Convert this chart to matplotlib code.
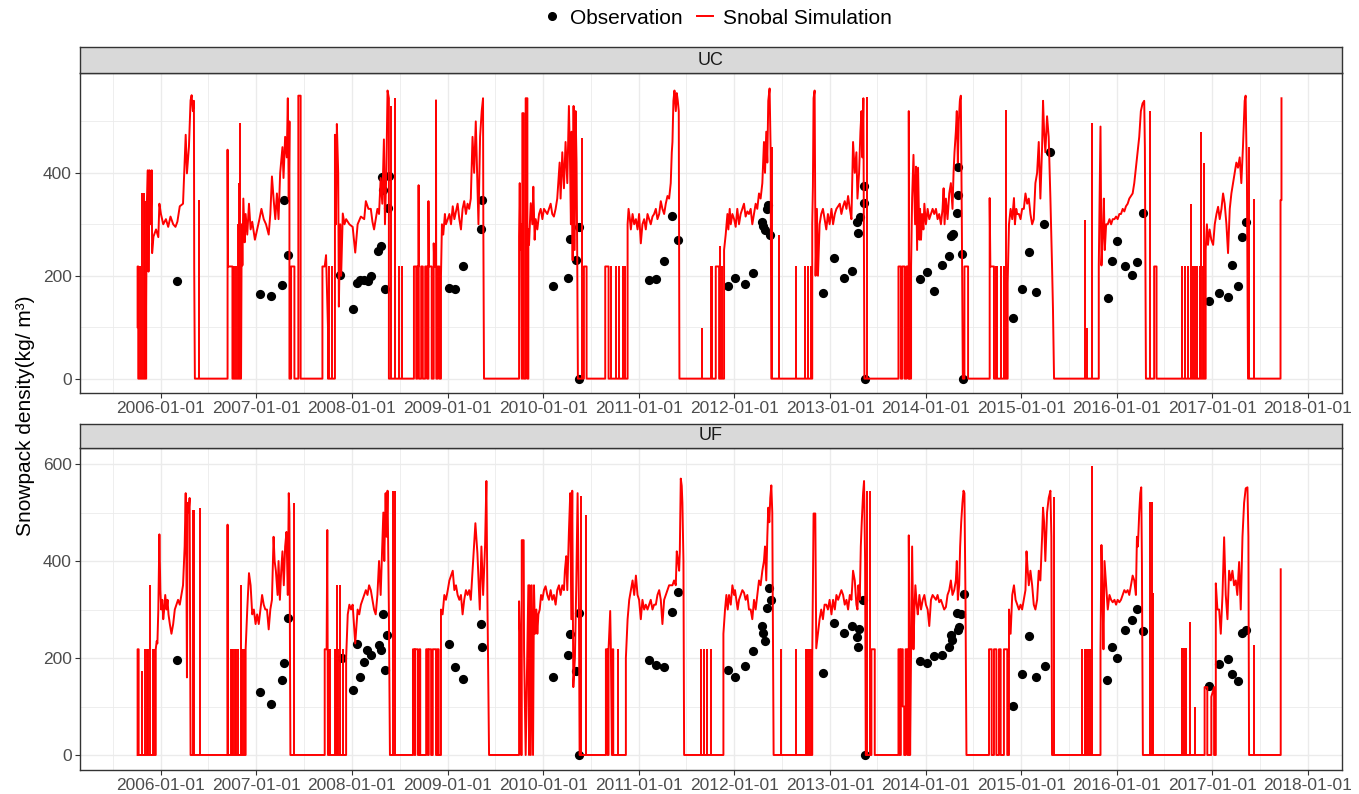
import numpy as np
import matplotlib.pyplot as plt
import matplotlib.dates as mdates
from matplotlib.lines import Line2D
from matplotlib.ticker import FixedLocator
from datetime import datetime, timedelta

plt.rcParams['font.family'] = ['Liberation Sans', 'DejaVu Sans']

# simulated density per snow season: (years from 1 Jan of season year, kg/m3)
uc_2006 = [(-0.245,100),(-0.245,218),(-0.238,218),(-0.238,0),(-0.155,0),(-0.155,140),(-0.15,330),(-0.138,405),(-0.131,208),(-0.121,405),(-0.107,300),(-0.097,405),(-0.093,244),(-0.079,276),(-0.052,290),(-0.028,275),(-0.017,340),(0.0,320),(0.024,300),(0.052,310),(0.076,295),(0.1,315),(0.128,300),(0.152,295),(0.172,305),(0.197,335),(0.231,340),(0.259,474),(0.272,399),(0.293,451),(0.31,541),(0.321,551),(0.334,520),(0.345,540),(0.348,215),(0.355,0)]
uc_2007 = [(-0.303,0),(-0.303,445),(-0.298,218),(-0.252,218),(-0.252,0),(-0.162,0),(-0.155,300),(-0.148,220),(-0.138,350),(-0.124,265),(-0.114,320),(-0.097,280),(-0.079,340),(-0.062,290),(-0.045,305),(-0.017,270),(0.007,290),(0.031,310),(0.052,330),(0.076,310),(0.1,300),(0.128,280),(0.145,320),(0.162,393),(0.179,350),(0.197,310),(0.214,360),(0.231,310),(0.248,400),(0.272,450),(0.283,390),(0.3,470),(0.317,430),(0.328,545),(0.338,350),(0.345,500),(0.345,0),(0.362,0),(0.362,218),(0.397,218),(0.397,0),(0.438,0),(0.438,550),(0.462,550),(0.462,0)]
uc_2008 = [(-0.31,0),(-0.31,218),(-0.286,218),(-0.272,240),(-0.252,100),(-0.252,0),(-0.179,0),(-0.179,474),(-0.169,300),(-0.159,495),(-0.145,400),(-0.138,140),(-0.124,300),(-0.114,200),(-0.097,321),(-0.079,300),(-0.062,310),(-0.028,300),(0.007,295),(0.034,245),(0.059,300),(0.093,315),(0.128,310),(0.145,345),(0.172,330),(0.197,330),(0.214,305),(0.231,290),(0.248,310),(0.266,330),(0.283,320),(0.3,390),(0.317,340),(0.334,465),(0.345,300),(0.359,400),(0.372,560),(0.386,545),(0.386,0)]
uc_2009 = [(-0.362,0),(-0.352,0),(-0.352,218),(-0.328,218),(-0.328,0),(-0.317,0),(-0.317,218),(-0.303,218),(-0.303,376),(-0.3,0),(-0.276,0),(-0.276,218),(-0.259,218),(-0.259,0),(-0.234,0),(-0.234,218),(-0.214,218),(-0.214,0),(-0.2,0),(-0.2,345),(-0.197,218),(-0.166,218),(-0.166,0),(-0.145,0),(-0.145,263),(-0.138,218),(-0.121,218),(-0.121,541),(-0.118,0),(-0.103,0),(-0.103,218),(-0.086,218),(-0.086,0),(-0.069,0),(-0.069,200),(-0.059,300),(-0.045,280),(-0.028,320),(-0.017,300),(0.0,310),(0.017,320),(0.034,300),(0.052,335),(0.069,310),(0.086,325),(0.103,340),(0.121,310),(0.138,290),(0.155,330),(0.172,345),(0.19,320),(0.207,340),(0.224,330),(0.241,350),(0.259,470),(0.276,400),(0.293,500),(0.303,430),(0.321,300),(0.338,470),(0.355,520),(0.369,545),(0.372,300),(0.379,0)]
uc_2010 = [(-0.254,0),(-0.254,276),(-0.247,380),(-0.24,250),(-0.233,300),(-0.226,0),(-0.22,0),(-0.22,516),(-0.206,516),(-0.206,0),(-0.185,0),(-0.185,545),(-0.167,545),(-0.167,0),(-0.157,0),(-0.157,290),(-0.15,260),(-0.132,341),(-0.115,300),(-0.105,373),(-0.091,270),(-0.08,310),(-0.063,290),(-0.045,320),(-0.028,330),(-0.01,310),(0.007,330),(0.024,325),(0.042,320),(0.059,330),(0.077,340),(0.094,320),(0.111,315),(0.129,330),(0.146,350),(0.157,380),(0.171,420),(0.181,350),(0.199,440),(0.216,370),(0.233,460),(0.251,380),(0.268,530),(0.279,430),(0.289,300),(0.296,480),(0.307,230),(0.317,530),(0.328,250),(0.338,520),(0.348,420),(0.355,240),(0.362,0),(0.425,0),(0.425,218),(0.453,218),(0.453,0)]
uc_2011 = [(-0.352,0),(-0.352,218),(-0.317,218),(-0.317,0),(-0.118,0),(-0.118,300),(-0.108,330),(-0.094,310),(-0.084,290),(-0.066,320),(-0.049,300),(-0.031,310),(-0.014,290),(0.003,320),(0.021,263),(0.038,300),(0.056,310),(0.073,290),(0.091,320),(0.108,310),(0.125,300),(0.143,315),(0.16,320),(0.178,330),(0.195,310),(0.213,320),(0.23,345),(0.247,330),(0.265,320),(0.282,340),(0.3,355),(0.317,350),(0.334,380),(0.345,440),(0.352,460),(0.362,540),(0.373,560),(0.387,520),(0.397,555),(0.408,540),(0.418,520),(0.425,0)]
uc_2012 = [(-0.195,0),(-0.195,218),(-0.16,218),(-0.16,0),(-0.108,0),(-0.108,250),(-0.091,280),(-0.073,320),(-0.063,290),(-0.049,330),(-0.038,300),(-0.021,320),(-0.003,310),(0.014,295),(0.031,330),(0.049,300),(0.066,320),(0.084,330),(0.101,340),(0.118,315),(0.136,325),(0.153,320),(0.171,330),(0.188,300),(0.206,320),(0.223,340),(0.24,330),(0.258,360),(0.275,350),(0.293,380),(0.31,460),(0.321,400),(0.334,480),(0.345,420),(0.355,540),(0.369,564),(0.38,440),(0.387,0)]
uc_2013 = [(-0.185,0),(-0.185,300),(-0.178,373),(-0.171,545),(-0.16,560),(-0.15,200),(-0.136,330),(-0.125,200),(-0.108,300),(-0.091,320),(-0.073,330),(-0.056,310),(-0.038,290),(-0.021,320),(-0.003,300),(0.014,330),(0.031,300),(0.049,320),(0.066,330),(0.084,335),(0.101,340),(0.118,320),(0.136,335),(0.153,345),(0.171,330),(0.188,355),(0.206,330),(0.223,310),(0.24,460),(0.258,400),(0.275,440),(0.286,350),(0.303,400),(0.317,480),(0.328,520),(0.338,430),(0.348,545),(0.359,0)]
uc_2014 = [(-0.285,0),(-0.285,218),(-0.26,218),(-0.26,0),(-0.245,0),(-0.245,218),(-0.22,218),(-0.22,0),(-0.2,0),(-0.2,218),(-0.18,218),(-0.18,0),(-0.177,0),(-0.177,520),(-0.17,0),(-0.153,0),(-0.153,218),(-0.142,351),(-0.128,435),(-0.111,300),(-0.101,412),(-0.09,250),(-0.08,410),(-0.066,270),(-0.059,330),(-0.049,270),(-0.038,320),(-0.024,290),(-0.014,340),(0.003,300),(0.021,330),(0.038,310),(0.056,320),(0.073,330),(0.09,320),(0.108,330),(0.125,310),(0.142,320),(0.16,300),(0.177,330),(0.188,370),(0.198,300),(0.212,350),(0.229,310),(0.247,360),(0.264,380),(0.281,330),(0.292,400),(0.302,440),(0.316,480),(0.326,520),(0.337,420),(0.347,500),(0.358,540),(0.368,550),(0.378,320),(0.389,0),(0.406,0),(0.406,218),(0.444,218),(0.444,0)]
uc_2015 = [(-0.33,0),(-0.33,351),(-0.323,218),(-0.285,218),(-0.285,0),(-0.142,0),(-0.142,186),(-0.128,300),(-0.111,330),(-0.094,310),(-0.076,351),(-0.066,300),(-0.052,330),(-0.042,320),(-0.024,320),(-0.007,310),(0.01,330),(0.028,330),(0.045,360),(0.063,340),(0.08,350),(0.097,320),(0.115,300),(0.132,310),(0.149,380),(0.167,400),(0.184,460),(0.201,350),(0.219,450),(0.229,540),(0.24,480),(0.253,440),(0.271,510),(0.288,470),(0.306,350),(0.323,220),(0.333,134),(0.344,0)]
uc_2016 = [(-0.188,0),(-0.188,218),(-0.17,490),(-0.16,220),(-0.146,280),(-0.135,350),(-0.125,250),(-0.111,300),(-0.094,300),(-0.076,310),(-0.059,300),(-0.042,310),(-0.024,310),(-0.007,315),(0.01,310),(0.028,320),(0.045,320),(0.063,330),(0.08,325),(0.097,335),(0.115,340),(0.132,350),(0.149,355),(0.167,360),(0.184,380),(0.201,410),(0.219,440),(0.236,470),(0.253,520),(0.271,535),(0.288,540),(0.295,450),(0.306,0),(0.392,0),(0.392,218),(0.417,218),(0.417,0)]
uc_2017 = [(-0.069,0),(-0.069,250),(-0.056,300),(-0.045,260),(-0.028,290),(-0.01,270),(0.007,260),(0.024,300),(0.042,320),(0.059,334),(0.076,310),(0.094,330),(0.111,360),(0.128,340),(0.146,300),(0.163,244),(0.181,330),(0.198,360),(0.215,380),(0.233,400),(0.25,420),(0.267,410),(0.285,430),(0.302,380),(0.319,450),(0.337,540),(0.347,550),(0.361,380),(0.372,0),(0.712,0),(0.712,347),(0.722,347),(0.722,545)]

# one-day spikes up from zero: (season, years from 1 Jan, kg/m3)
uc_spikes = [(2006,-0.217,218),(2006,-0.2,360),(2006,-0.183,360),(2006,-0.166,345),(2006,0.397,348),
             (2007,-0.245,218),(2007,-0.231,218),(2007,-0.217,218),(2007,-0.197,300),(2007,-0.183,380),(2007,-0.169,497),
             (2008,-0.241,218),(2008,-0.21,218),(2008,0.41,530),(2008,0.448,545),(2008,0.497,218),(2008,0.524,218),
             (2010,0.408,467),
             (2011,-0.293,218),(2011,-0.24,218),(2011,-0.206,218),(2011,-0.171,218),(2011,-0.143,218),
             (2012,-0.341,98),(2012,-0.247,218),(2012,-0.23,218),(2012,-0.15,257),(2012,-0.125,218),(2012,0.397,450),(2012,0.467,280),
             (2013,-0.352,218),(2013,-0.265,218),(2013,-0.23,218),(2013,-0.195,218),(2013,0.39,548),
             (2015,-0.267,218),(2015,-0.25,218),(2015,-0.215,218),(2015,-0.181,218),(2015,-0.163,522),
             (2016,-0.33,309),(2016,-0.309,98),(2016,-0.257,496),(2016,0.347,520),
             (2017,-0.313,218),(2017,-0.288,218),(2017,-0.253,218),(2017,-0.226,340),(2017,-0.201,218),(2017,-0.184,218),
             (2017,-0.156,218),(2017,-0.132,218),(2017,-0.115,480),(2017,-0.097,218),(2017,-0.09,420),(2017,0.382,450),(2017,0.431,350)]

uf_2006 = [(-0.245,0),(-0.245,218),(-0.234,218),(-0.234,0),(-0.055,0),(-0.055,218),(-0.045,235),(-0.038,230),(-0.028,300),(-0.017,455),(-0.007,340),(0.003,300),(0.014,320),(0.024,280),(0.034,300),(0.045,330),(0.059,300),(0.069,320),(0.079,290),(0.093,270),(0.11,250),(0.128,270),(0.145,300),(0.162,310),(0.179,320),(0.197,310),(0.214,330),(0.231,350),(0.248,430),(0.259,540),(0.266,400),(0.272,160),(0.279,520),(0.29,500),(0.3,530),(0.31,0)]
uf_2007 = [(-0.303,0),(-0.303,475),(-0.3,0),(-0.114,0),(-0.114,218),(-0.097,300),(-0.079,375),(-0.062,350),(-0.045,290),(-0.028,300),(-0.01,270),(0.007,290),(0.024,270),(0.041,300),(0.059,330),(0.076,310),(0.093,300),(0.11,300),(0.128,259),(0.145,300),(0.162,320),(0.179,450),(0.19,400),(0.203,380),(0.221,330),(0.231,400),(0.245,320),(0.259,380),(0.272,420),(0.286,350),(0.3,430),(0.314,460),(0.328,330),(0.338,540),(0.345,500),(0.355,0)]
uf_2008 = [(-0.286,0),(-0.286,218),(-0.266,218),(-0.259,464),(-0.252,0),(-0.062,0),(-0.062,200),(-0.045,290),(-0.028,310),(-0.01,300),(0.007,310),(0.024,260),(0.034,230),(0.048,270),(0.059,300),(0.076,290),(0.093,310),(0.11,320),(0.128,330),(0.145,340),(0.162,330),(0.179,350),(0.197,340),(0.214,320),(0.231,300),(0.248,290),(0.266,330),(0.283,400),(0.3,330),(0.317,430),(0.328,500),(0.338,400),(0.352,540),(0.362,450),(0.372,545),(0.386,300),(0.397,0)]
uf_2009 = [(-0.362,0),(-0.362,218),(-0.345,218),(-0.345,0),(-0.338,0),(-0.338,218),(-0.31,218),(-0.31,0),(-0.293,0),(-0.293,218),(-0.286,218),(-0.286,0),(-0.224,0),(-0.224,218),(-0.207,218),(-0.207,0),(-0.197,0),(-0.197,218),(-0.172,218),(-0.172,0),(-0.155,0),(-0.155,218),(-0.121,218),(-0.121,0),(-0.107,0),(-0.107,218),(-0.093,218),(-0.093,0),(-0.069,0),(-0.069,300),(-0.052,290),(-0.034,330),(-0.017,320),(0.0,340),(0.017,360),(0.034,370),(0.052,380),(0.069,340),(0.086,350),(0.103,330),(0.121,320),(0.138,330),(0.155,290),(0.172,320),(0.19,340),(0.207,330),(0.224,340),(0.241,320),(0.265,398),(0.289,478),(0.31,416),(0.335,300),(0.352,430),(0.37,330),(0.39,430),(0.404,565),(0.415,316),(0.432,0)]
uf_2010 = [(-0.254,0),(-0.254,317),(-0.244,250),(-0.233,0),(-0.226,0),(-0.226,443),(-0.206,443),(-0.202,218),(-0.185,0),(-0.167,218),(-0.157,350),(-0.15,0),(-0.143,350),(-0.132,0),(-0.122,350),(-0.108,0),(-0.098,350),(-0.087,250),(-0.073,300),(-0.063,250),(-0.052,290),(-0.038,300),(-0.024,330),(-0.01,320),(0.007,340),(0.024,348),(0.042,330),(0.059,320),(0.077,340),(0.094,320),(0.111,330),(0.129,310),(0.146,340),(0.164,350),(0.181,330),(0.199,350),(0.216,340),(0.226,380),(0.24,410),(0.251,340),(0.268,460),(0.282,540),(0.293,280),(0.303,545),(0.314,140),(0.331,200),(0.345,350),(0.359,540),(0.373,300),(0.38,0)]
uf_2011 = [(-0.345,0),(-0.345,218),(-0.328,218),(-0.328,0),(-0.317,0),(-0.317,218),(-0.3,297),(-0.293,218),(-0.282,0),(-0.275,218),(-0.268,218),(-0.268,0),(-0.136,0),(-0.136,200),(-0.118,280),(-0.101,320),(-0.084,340),(-0.066,360),(-0.049,330),(-0.031,370),(-0.014,330),(0.003,320),(0.021,280),(0.038,320),(0.056,300),(0.073,310),(0.091,300),(0.108,310),(0.125,320),(0.143,300),(0.16,310),(0.178,310),(0.195,330),(0.213,340),(0.23,320),(0.247,270),(0.265,320),(0.282,330),(0.3,340),(0.317,350),(0.334,350),(0.352,350),(0.369,360),(0.387,350),(0.397,420),(0.411,400),(0.422,380),(0.429,420),(0.439,570),(0.449,555),(0.456,520),(0.467,400),(0.474,0)]
uf_2012 = [(-0.115,0),(-0.115,250),(-0.098,300),(-0.084,330),(-0.07,300),(-0.056,330),(-0.038,310),(-0.021,350),(-0.003,330),(0.007,340),(0.021,320),(0.035,300),(0.049,320),(0.066,330),(0.084,340),(0.101,335),(0.118,320),(0.136,330),(0.153,300),(0.171,300),(0.188,280),(0.206,320),(0.223,300),(0.24,330),(0.258,360),(0.275,350),(0.293,380),(0.31,400),(0.321,430),(0.334,360),(0.345,450),(0.355,510),(0.366,480),(0.376,530),(0.387,556),(0.397,500),(0.411,0)]
uf_2013 = [(-0.185,0),(-0.185,200),(-0.171,498),(-0.153,498),(-0.143,220),(-0.125,250),(-0.108,280),(-0.091,300),(-0.073,280),(-0.056,310),(-0.038,310),(-0.021,300),(-0.003,320),(0.014,290),(0.031,320),(0.049,300),(0.066,330),(0.084,320),(0.101,330),(0.118,340),(0.136,330),(0.153,310),(0.171,320),(0.188,300),(0.206,330),(0.223,320),(0.24,380),(0.258,360),(0.275,310),(0.286,300),(0.296,350),(0.31,320),(0.321,430),(0.331,480),(0.345,540),(0.355,565),(0.366,400),(0.373,0),(0.432,0),(0.432,218),(0.467,218),(0.467,0)]
uf_2014 = [(-0.285,0),(-0.285,218),(-0.27,218),(-0.27,0),(-0.26,0),(-0.26,218),(-0.24,218),(-0.24,100),(-0.225,100),(-0.225,0),(-0.21,0),(-0.21,218),(-0.19,218),(-0.19,0),(-0.177,0),(-0.177,453),(-0.163,0),(-0.153,218),(-0.142,430),(-0.128,218),(-0.118,300),(-0.108,350),(-0.094,310),(-0.083,290),(-0.066,330),(-0.049,300),(-0.031,320),(-0.014,330),(0.003,310),(0.021,300),(0.038,266),(0.056,320),(0.073,330),(0.09,325),(0.108,320),(0.125,330),(0.142,315),(0.16,320),(0.177,310),(0.194,300),(0.212,305),(0.229,330),(0.247,340),(0.264,360),(0.281,330),(0.299,340),(0.316,360),(0.326,400),(0.337,320),(0.351,350),(0.361,430),(0.372,480),(0.385,520),(0.396,545),(0.406,540),(0.417,320),(0.427,0)]
uf_2015 = [(-0.337,0),(-0.337,218),(-0.309,218),(-0.309,0),(-0.285,0),(-0.285,218),(-0.26,218),(-0.26,0),(-0.233,0),(-0.233,218),(-0.215,218),(-0.215,0),(-0.181,0),(-0.181,218),(-0.146,218),(-0.146,0),(-0.128,0),(-0.128,300),(-0.111,250),(-0.094,330),(-0.076,350),(-0.059,320),(-0.042,310),(-0.024,300),(-0.007,310),(0.01,300),(0.028,320),(0.045,340),(0.056,420),(0.069,380),(0.08,350),(0.097,380),(0.115,350),(0.132,310),(0.149,300),(0.167,320),(0.184,380),(0.201,360),(0.219,450),(0.229,510),(0.24,480),(0.253,400),(0.271,500),(0.288,530),(0.306,545),(0.316,450),(0.323,0)]
uf_2016 = [(-0.17,0),(-0.17,218),(-0.16,433),(-0.146,300),(-0.139,218),(-0.128,400),(-0.111,350),(-0.094,300),(-0.076,330),(-0.059,320),(-0.042,315),(-0.024,320),(-0.007,310),(0.01,320),(0.028,315),(0.045,320),(0.063,330),(0.08,340),(0.097,335),(0.115,340),(0.132,330),(0.149,350),(0.167,370),(0.184,360),(0.201,330),(0.212,450),(0.222,430),(0.236,500),(0.247,540),(0.257,552),(0.264,400),(0.274,0)]
uf_2017 = [(-0.08,0),(-0.08,140),(-0.052,140),(-0.052,0),(-0.01,0),(-0.01,120),(0.017,140),(0.017,0),(0.035,0),(0.035,354),(0.052,300),(0.07,300),(0.087,250),(0.105,330),(0.122,449),(0.139,330),(0.157,280),(0.174,380),(0.192,360),(0.209,380),(0.226,350),(0.244,360),(0.26,330),(0.279,398),(0.296,300),(0.314,450),(0.331,520),(0.348,550),(0.366,552),(0.376,450),(0.383,0),(0.714,0),(0.714,383)]

uf_spikes = [(2006,-0.197,174),(2006,-0.166,218),(2006,-0.148,218),(2006,-0.131,218),(2006,-0.114,350),(2006,-0.086,218),(2006,-0.069,218),(2006,0.334,505),(2006,0.348,505),(2006,0.41,510),
             (2007,-0.269,218),(2007,-0.252,218),(2007,-0.241,218),(2007,-0.224,218),(2007,-0.21,218),(2007,-0.19,218),(2007,-0.166,350),(2007,-0.148,218),(2007,-0.131,218),(2007,0.397,520),
             (2008,-0.241,218),(2008,-0.228,218),(2008,-0.183,218),(2008,-0.166,218),(2008,-0.159,350),(2008,-0.148,218),(2008,-0.131,350),(2008,-0.097,218),(2008,0.431,545),(2008,0.448,545),
             (2010,0.394,535),(2010,0.443,494),(2011,-0.223,218),
             (2012,-0.348,218),(2012,-0.317,218),(2012,-0.282,218),(2012,-0.247,218),(2012,0.484,218),
             (2013,-0.352,218),(2013,-0.254,218),(2013,-0.237,218),(2013,-0.22,218),(2013,-0.195,218),(2013,0.39,545),(2013,0.415,545),
             (2015,0.34,532),
             (2016,-0.361,218),(2016,-0.337,218),(2016,-0.319,218),(2016,-0.302,218),(2016,-0.285,218),(2016,-0.257,597),(2016,0.347,522),(2016,0.365,522),(2016,0.375,334),
             (2017,-0.32,220),(2017,-0.3,220),(2017,-0.279,220),(2017,-0.233,274),(2017,-0.185,99),(2017,0.436,227)]

# observations (decimal year, kg/m3)
uc_obs_year = [2006.169, 2007.041, 2007.152, 2007.262, 2007.328, 2007.29,
               2007.879, 2008.014, 2008.048, 2008.086, 2008.128, 2008.166, 2008.203, 2008.276, 2008.3, 2008.345, 2008.31, 2008.386, 2008.328, 2008.376,
               2009.01, 2009.076, 2009.155, 2009.345, 2009.362,
               2010.098, 2010.258, 2010.279, 2010.341, 2010.369, 2010.376,
               2011.105, 2011.185, 2011.261, 2011.348, 2011.408,
               2011.93, 2012.007, 2012.115, 2012.192, 2012.286, 2012.3, 2012.317, 2012.338, 2012.348, 2012.373,
               2012.927, 2013.045, 2013.146, 2013.23, 2013.293, 2013.286, 2013.314, 2013.359, 2013.355, 2013.362,
               2013.941, 2014.017, 2014.09, 2014.17, 2014.247, 2014.264, 2014.288, 2014.323, 2014.34, 2014.337, 2014.378, 2014.396,
               2014.91, 2015.007, 2015.083, 2015.153, 2015.243, 2015.306,
               2015.906, 2015.948, 2016.007, 2016.083, 2016.156, 2016.212, 2016.274,
               2016.969, 2017.066, 2017.163, 2017.205, 2017.264, 2017.309, 2017.354]
uc_obs_val = [190, 164, 160, 182, 241, 347,
              202, 136, 186, 192, 192, 189, 199, 249, 257, 174, 391, 393, 367, 331,
              176, 174, 219, 290, 347,
              181, 195, 272, 230, 295, 0,
              192, 193, 228, 317, 270,
              181, 195, 184, 205, 305, 296, 289, 329, 338, 280,
              166, 235, 195, 209, 283, 304, 315, 341, 375, 0,
              193, 207, 171, 221, 238, 278, 281, 322, 356, 411, 242, 0,
              118, 174, 247, 169, 300, 440,
              157, 228, 268, 219, 202, 226, 322,
              150, 166, 158, 221, 181, 276, 304]
uf_obs_year = [2006.169, 2007.041, 2007.152, 2007.262, 2007.283, 2007.328,
               2007.89, 2008.014, 2008.048, 2008.086, 2008.124, 2008.162, 2008.2, 2008.279, 2008.3, 2008.324, 2008.345, 2008.362,
               2009.014, 2009.076, 2009.155, 2009.352, 2009.362,
               2010.101, 2010.258, 2010.279, 2010.341, 2010.369, 2010.376,
               2011.108, 2011.185, 2011.265, 2011.348, 2011.408,
               2011.93, 2012.007, 2012.115, 2012.192, 2012.286, 2012.3, 2012.324, 2012.341, 2012.362, 2012.383,
               2012.93, 2013.045, 2013.146, 2013.23, 2013.286, 2013.293, 2013.303, 2013.348, 2013.362,
               2013.941, 2014.017, 2014.09, 2014.17, 2014.247, 2014.264, 2014.281, 2014.337, 2014.351, 2014.323, 2014.372, 2014.403,
               2014.913, 2015.007, 2015.083, 2015.153, 2015.247,
               2015.903, 2015.948, 2016.007, 2016.083, 2016.156, 2016.212, 2016.278,
               2016.969, 2017.066, 2017.163, 2017.208, 2017.267, 2017.309, 2017.351]
uf_obs_val = [196, 130, 106, 155, 189, 283,
              201, 134, 228, 160, 191, 217, 207, 227, 217, 290, 176, 248,
              229, 181, 157, 271, 222,
              161, 207, 250, 174, 293, 0,
              196, 185, 181, 295, 337,
              175, 160, 183, 214, 266, 252, 236, 303, 344, 320,
              170, 273, 251, 266, 243, 223, 259, 320, 0,
              194, 190, 205, 207, 223, 247, 237, 257, 263, 293, 291, 333,
              102, 168, 246, 160, 184,
              155, 223, 201, 258, 278, 302, 256,
              143, 188, 197, 166, 153, 252, 258]

uc_seasons = [(2006, uc_2006), (2007, uc_2007), (2008, uc_2008), (2009, uc_2009), (2010, uc_2010), (2011, uc_2011),
              (2012, uc_2012), (2013, uc_2013), (2014, uc_2014), (2015, uc_2015), (2016, uc_2016), (2017, uc_2017)]
uf_seasons = [(2006, uf_2006), (2007, uf_2007), (2008, uf_2008), (2009, uf_2009), (2010, uf_2010), (2011, uf_2011),
              (2012, uf_2012), (2013, uf_2013), (2014, uf_2014), (2015, uf_2015), (2016, uf_2016), (2017, uf_2017)]


def to_date(y):
    yr = int(np.floor(y))
    return datetime(yr, 1, 1) + timedelta(days=float(y - yr) * 365.25)


def sim_series(seasons):
    xs, ys = [], []
    for year, pts in seasons:
        for t, v in pts:
            xs.append(to_date(year + t))
            ys.append(v)
    return xs, ys


RED = '#FF0000'
DARK = '#333333'
fig = plt.figure(figsize=(13.59, 7.94), dpi=100)

panels = [
    ('UC', [0.0589, 0.505, 0.9286, 0.403], [0.0589, 0.908, 0.9286, 0.0327],
     uc_seasons, uc_spikes, uc_obs_year, uc_obs_val, (-28, 594), [0, 200, 400], [100, 300, 500]),
    ('UF', [0.0589, 0.0302, 0.9286, 0.4055], [0.0589, 0.4358, 0.9286, 0.0302],
     uf_seasons, uf_spikes, uf_obs_year, uf_obs_val, (-31, 633), [0, 200, 400, 600], [100, 300, 500]),
]

for name, rect, srect, seasons, spikes, oyear, oval, ylim, yt, ymt in panels:
    ax = fig.add_axes(rect)
    ax.set_facecolor('white')
    ax.set_axisbelow(True)

    ax.scatter([to_date(y) for y in oyear], oval, s=44, color='black', zorder=2, linewidths=0)
    sx, sy = sim_series(seasons)
    ax.plot(sx, sy, color=RED, lw=1.4, zorder=3)
    ax.vlines([to_date(s + t) for s, t, v in spikes], 0, [v for s, t, v in spikes],
              color=RED, lw=1.4, zorder=3)

    ax.set_xlim(to_date(2005.153), to_date(2018.356))
    ax.set_ylim(*ylim)
    ax.xaxis.set_major_locator(mdates.YearLocator(1, month=1, day=1))
    ax.xaxis.set_minor_locator(mdates.MonthLocator(bymonth=7, bymonthday=1))
    ax.xaxis.set_major_formatter(mdates.DateFormatter('%Y-%m-%d'))
    ax.set_yticks(yt)
    ax.yaxis.set_minor_locator(FixedLocator(ymt))
    ax.grid(which='major', color='#EBEBEB', lw=1.0)
    ax.grid(which='minor', color='#EBEBEB', lw=0.6)
    ax.tick_params(which='major', length=3.5, width=0.8, color=DARK, labelcolor='#4D4D4D',
                   labelsize=12.5, pad=2.5)
    ax.tick_params(which='minor', length=0)
    for sp in ax.spines.values():
        sp.set_color(DARK)
        sp.set_linewidth(1.0)

    st = fig.add_axes(srect)
    st.set_facecolor('#D9D9D9')
    st.set_xticks([])
    st.set_yticks([])
    for sp in st.spines.values():
        sp.set_color(DARK)
        sp.set_linewidth(1.0)
    st.text(0.5, 0.5, name, ha='center', va='center', fontsize=13, color='#1A1A1A',
            transform=st.transAxes)

fig.text(0.019, 0.477, 'Snowpack density(kg/ m³)', rotation=90, ha='center', va='center',
         fontsize=15, color='black')

handles = [Line2D([], [], marker='o', color='black', linestyle='none', markersize=5.5),
           Line2D([], [], color=RED, lw=1.4)]
fig.legend(handles, ['Observation', 'Snobal Simulation'], loc='center', bbox_to_anchor=(0.528, 0.977),
           ncol=2, frameon=False, fontsize=15, handlelength=0.8, handletextpad=0.45,
           columnspacing=0.7)

fig.savefig('out.png', dpi=100)
